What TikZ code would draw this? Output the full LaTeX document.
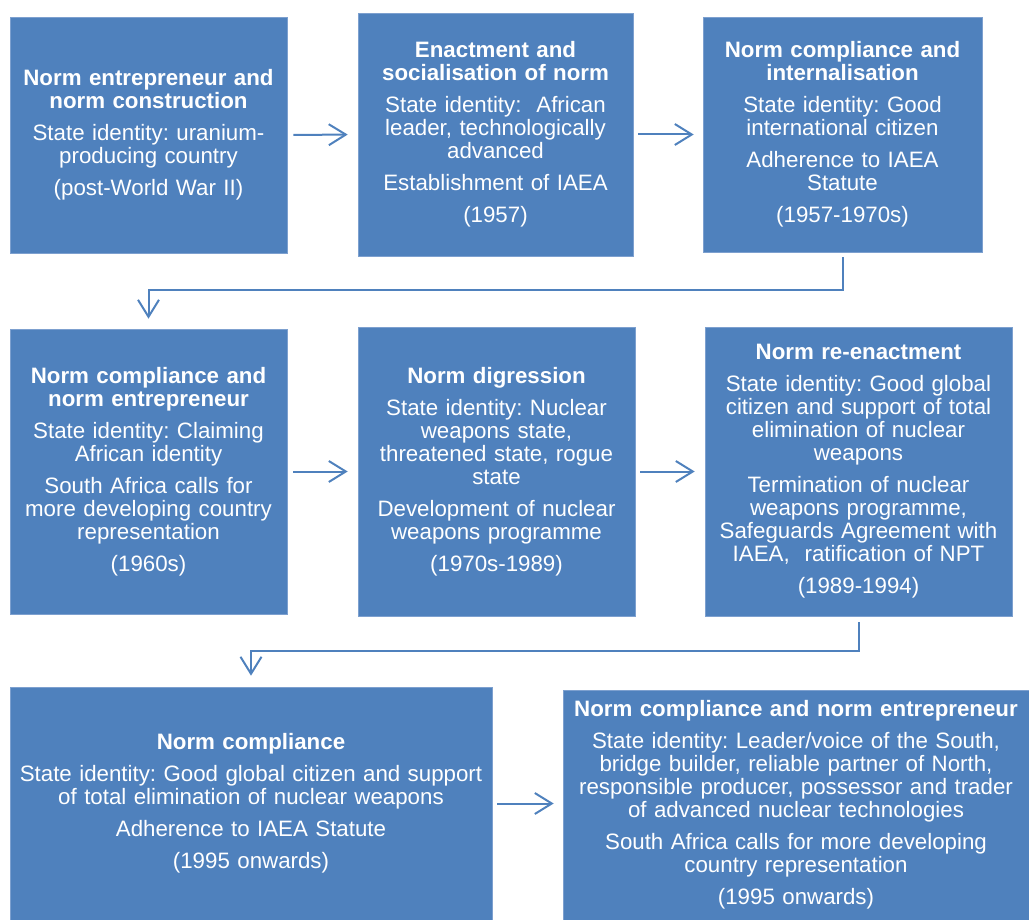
\documentclass[tikz,border=0pt]{standalone}
\usepackage{fontspec}
\setmainfont{Liberation Sans}
\usetikzlibrary{arrows.meta}
\frenchspacing
\definecolor{stageblue}{RGB}{79,129,189}
\definecolor{stageedge}{RGB}{125,160,207}
\tikzset{
	stage/.style={rectangle, fill=stageblue, draw=stageedge, line width=0.6pt, text=white,
		align=center, inner sep=0pt, font=\fontsize{22.3}{23}\selectfont},
	flow/.style={draw=stageblue, line width=2pt, -{Straight Barb[length=17pt,width=21pt]}}
}
\begin{document}
\begin{tikzpicture}[x=1pt,y=-1pt]
			\useasboundingbox (0,0) rectangle (1029,920);
			\node[stage, minimum width=277pt, minimum height=236pt, text width=271pt] (entrep) at (148.5,135)
				{\textbf{Norm entrepreneur and}\\\textbf{norm construction}\\[9pt]
				State identity: uranium-\\producing country\\[9pt](post-World War II)};
			\node[stage, minimum width=275pt, minimum height=243pt, text width=269pt] (enact) at (495.5,134.5)
				{\textbf{Enactment and}\\\textbf{socialisation of norm}\\[9pt]
				State identity:~ African\\leader, technologically\\advanced\\[9pt]
				Establishment of IAEA\\[9pt](1957)};
			\node[stage, minimum width=279pt, minimum height=235pt, text width=273pt] (comply) at (842.5,134.5)
				{\textbf{Norm compliance and}\\\textbf{internalisation}\\[9pt]
				State identity: Good\\international citizen\\[9pt]
				Adherence to IAEA\\Statute\\[9pt](1957-1970s)};
			\node[stage, minimum width=277pt, minimum height=285pt, text width=271pt] (africa) at (148.5,471.5)
				{\textbf{Norm compliance and}\\\textbf{norm entrepreneur}\\[9pt]
				State identity: Claiming\\African identity\\[9pt]
				South Africa calls for\\more developing country\\representation\\[9pt](1960s)};
			\node[stage, minimum width=277pt, minimum height=289pt, text width=271pt] (digress) at (496.5,471.5)
				{\textbf{Norm digression}\\[9pt]
				State identity: Nuclear\\weapons state,\\threatened state, rogue\\state\\[9pt]
				Development of nuclear\\weapons programme\\[9pt](1970s-1989)};
			\node[stage, minimum width=307pt, minimum height=289pt, text width=301pt] (reenact) at (858.5,471.5)
				{\textbf{Norm re-enactment}\\[9pt]
				State identity: Good global\\citizen and support of total\\elimination of nuclear\\weapons\\[9pt]
				Termination of nuclear\\weapons programme,\\Safeguards Agreement with\\IAEA,~ ratification of NPT\\[9pt]
				(1989-1994)};
			\node[stage, minimum width=482pt, minimum height=233pt, text width=476pt] (compl) at (251,803.5)
				{\textbf{Norm compliance}\\[9pt]
				State identity: Good global citizen and support\\of total elimination of nuclear weapons\\[9pt]
				Adherence to IAEA Statute\\[9pt](1995 onwards)};
			\node[stage, minimum width=466pt, minimum height=230pt, text width=462pt] (voice) at (796,805)
				{\textbf{Norm compliance and norm entrepreneur}\\[9pt]
				State identity: Leader/voice of the South,\\bridge builder, reliable partner of North,\\
				responsible producer, possessor and trader\\of advanced nuclear technologies\\[9pt]
				South Africa calls for more developing\\country representation\\[9pt](1995 onwards)};
			\draw[flow, shorten <=6pt, shorten >=10pt] (entrep.east) -- (enact.west);
			\draw[flow, shorten <=5pt, shorten >=9pt] (enact.east) -- (comply.west);
			\draw[flow, shorten <=5pt, shorten >=10pt] (comply.south) -- ++(0,38) -| (africa.north);
			\draw[flow, shorten <=6pt, shorten >=10pt] (africa.east) -- (digress.west);
			\draw[flow, shorten <=5pt, shorten >=10pt] (digress.east) -- (reenact.west);
			\draw[flow, shorten <=6pt, shorten >=11pt] (reenact.south) -- ++(0,35) -| (compl.north);
			\draw[flow, shorten <=5pt, shorten >=9pt] (compl.east) -- (compl.east -| voice.west);
		\end{tikzpicture}
\end{document}
